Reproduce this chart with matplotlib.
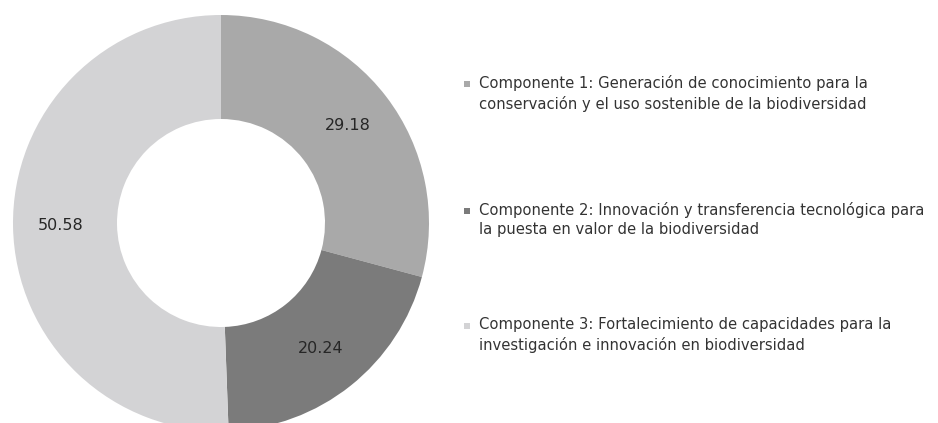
import numpy as np
import matplotlib
matplotlib.use("Agg")
import matplotlib.pyplot as plt

# Budget share per component (%)
componentes = [
    "Componente 1: Generación de conocimiento para la\nconservación y el uso sostenible de la biodiversidad",
    "Componente 2: Innovación y transferencia tecnológica para\nla puesta en valor de la biodiversidad",
    "Componente 3: Fortalecimiento de capacidades para la\ninvestigación e innovación en biodiversidad",
]
valores = [29.18, 20.24, 50.58]
colores = ["#a9a9a9", "#7b7b7b", "#d3d3d5"]

W, H = 938, 423
fig = plt.figure(figsize=(W / 100, H / 100), dpi=100)
fig.patch.set_facecolor("white")

# donut: centre (221, 223) px from top-left, outer radius 208 px
cx, cy, r = 221, 223, 208
ax = fig.add_axes([(cx - r) / W, (H - cy - r) / H, 2 * r / W, 2 * r / H])
wedges, _ = ax.pie(
    valores,
    colors=colores,
    startangle=90,
    counterclock=False,
    radius=1.0,
    wedgeprops=dict(width=0.5, edgecolor="none"),
)
ax.set_xlim(-1, 1)
ax.set_ylim(-1, 1)
ax.set_aspect("equal")
ax.axis("off")

for w, v in zip(wedges, valores):
    ang = np.deg2rad((w.theta1 + w.theta2) / 2)
    ax.text(0.77 * np.cos(ang), 0.77 * np.sin(ang), f"{v:.2f}",
            ha="center", va="center", fontsize=11.5, color="#262626")

# legend drawn in pixel coordinates on an overlay axes
lg = fig.add_axes([0, 0, 1, 1])
lg.set_xlim(0, W)
lg.set_ylim(H, 0)
lg.axis("off")
filas_y = [84, 211, 326]
for texto, color, y in zip(componentes, colores, filas_y):
    lg.scatter([467], [y], marker="s", s=24, color=color, edgecolors="none")
    lg.text(479, y - 9, texto, ha="left", va="top", fontsize=10.6,
            color="#333333", linespacing=1.35)

fig.savefig("out.png", dpi=100, facecolor="white")
